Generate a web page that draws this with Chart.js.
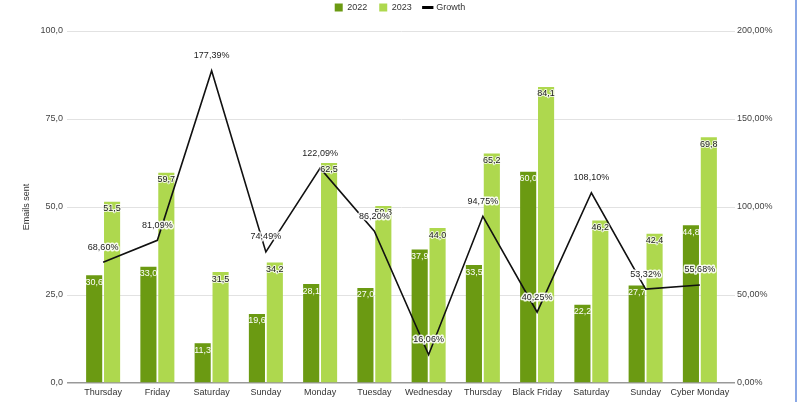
<!DOCTYPE html>
<html>
<head>
<meta charset="utf-8">
<script src="https://cdn.jsdelivr.net/npm/chart.js@4"></script>
<style>
  html, body { margin: 0; padding: 0; background: #fff; }
  #wrap { position: relative; width: 800px; height: 402px; }
  #edge { position: absolute; left: 795px; top: 0; width: 2px; height: 402px; background: #8aa8e6; }
</style>
</head>
<body>
<div id="wrap">
  <canvas id="myChart" width="800" height="402"></canvas>
  <div id="edge"></div>
</div>
<script>
// Chart data
const days = ['Thursday', 'Friday', 'Saturday', 'Sunday', 'Monday', 'Tuesday', 'Wednesday',
              'Thursday', 'Black Friday', 'Saturday', 'Sunday', 'Cyber Monday'];
const sent2022 = [30.6, 33.0, 11.3, 19.6, 28.1, 27.0, 37.9, 33.5, 60.0, 22.2, 27.7, 44.8];
const sent2023 = [51.5, 59.7, 31.5, 34.2, 62.5, 50.3, 44.0, 65.2, 84.1, 46.2, 42.4, 69.8];
const growth = [68.60, 81.09, 177.39, 74.49, 122.09, 86.20, 16.06, 94.75, 40.25, 108.10, 53.32, 55.68];

const dark = '#6b9a12';
const light = '#aed84e';
const FONT = 'Arial, "Liberation Sans", sans-serif';

const comma = (v, d) => v.toFixed(d).replace('.', ',');

// draws the value labels on bars and line
const valueLabels = {
    id: 'valueLabels',
    afterDatasetsDraw(chart) {
        const ctx = chart.ctx;
        ctx.save();
        ctx.font = '9px ' + FONT;
        ctx.textAlign = 'center';
        ctx.textBaseline = 'middle';
        ctx.lineJoin = 'round';

        // bars
        [0, 1].forEach(i => {
            const meta = chart.getDatasetMeta(i);
            meta.data.forEach((bar, j) => {
                const txt = comma(chart.data.datasets[i].data[j], 1);
                const y = bar.y + 7;
                if (i === 0) {
                    ctx.fillStyle = '#ffffff';
                    ctx.fillText(txt, bar.x, y);
                } else {
                    ctx.strokeStyle = 'rgba(255,255,255,0.8)';
                    ctx.lineWidth = 2;
                    ctx.strokeText(txt, bar.x, y);
                    ctx.fillStyle = '#1a1a1a';
                    ctx.fillText(txt, bar.x, y);
                }
            });
        });

        // growth line
        const meta = chart.getDatasetMeta(2);
        meta.data.forEach((pt, j) => {
            const txt = comma(growth[j], 2) + '%';
            const y = pt.y - 15;
            ctx.strokeStyle = 'rgba(255,255,255,0.9)';
            ctx.lineWidth = 3;
            ctx.strokeText(txt, pt.x, y);
            ctx.fillStyle = '#222';
            ctx.fillText(txt, pt.x, y);
        });
        ctx.restore();
    }
};

// push the chart area down below the legend
const legendGap = {
    id: 'legendGap',
    beforeInit(chart) {
        const fit = chart.legend.fit;
        chart.legend.fit = function () {
            fit.bind(chart.legend)();
            this.height = 40;
        };
    }
};

const ctx = document.getElementById('myChart').getContext('2d');
new Chart(ctx, {
    type: 'bar',
    data: {
        labels: days,
        datasets: [
            {
                label: '2022',
                data: sent2022,
                backgroundColor: dark,
                yAxisID: 'y',
                order: 1,
                categoryPercentage: 0.66,
                barPercentage: 0.9,
                pointStyle: 'rect'
            },
            {
                label: '2023',
                data: sent2023,
                backgroundColor: light,
                yAxisID: 'y',
                order: 1,
                categoryPercentage: 0.66,
                barPercentage: 0.9,
                pointStyle: 'rect'
            },
            {
                type: 'line',
                label: 'Growth',
                data: growth,
                borderColor: '#111',
                backgroundColor: '#111',
                borderWidth: 1.6,
                pointRadius: 0,
                tension: 0,
                yAxisID: 'y1',
                order: 0,
                pointStyle: 'line'
            }
        ]
    },
    options: {
        responsive: false,
        animation: false,
        layout: { padding: { top: -9, left: 0, right: 0, bottom: 0 } },
        plugins: {
            tooltip: { enabled: false },
            legend: {
                position: 'top',
                labels: {
                    usePointStyle: true,
                    boxWidth: 8,
                    boxHeight: 8,
                    padding: 12,
                    color: '#333',
                    font: { size: 9, family: FONT },
                    sort: (a, b) => a.datasetIndex - b.datasetIndex,
                    generateLabels(chart) {
                        const items = Chart.defaults.plugins.legend.labels.generateLabels(chart);
                        items.forEach(it => {
                            if (it.text === 'Growth') {
                                it.lineWidth = 3;
                                it.strokeStyle = '#000';
                            } else {
                                it.lineWidth = 0;
                            }
                        });
                        return items;
                    }
                }
            }
        },
        scales: {
            x: {
                grid: { display: false, drawTicks: false },
                border: { display: false },
                ticks: { color: '#333', font: { size: 9, family: FONT }, padding: 4, maxRotation: 0, autoSkip: false },
                afterFit(scale) { scale.height = 19; }
            },
            y: {
                position: 'left',
                min: 0,
                max: 100,
                ticks: {
                    stepSize: 25,
                    color: '#444',
                    padding: 4,
                    font: { size: 9, family: FONT },
                    callback: v => comma(v, 1)
                },
                grid: {
                    color: c => c.tick && c.tick.value === 0 ? '#999' : '#e2e2e2',
                    tickColor: c => c.tick && c.tick.value === 0 ? '#999' : '#e2e2e2',
                    lineWidth: c => c.tick && c.tick.value === 0 ? 1.5 : 1,
                    tickLength: 9
                },
                border: { display: false },
                title: {
                    display: true,
                    text: 'Emails sent',
                    color: '#333',
                    font: { size: 9, family: FONT },
                    padding: { top: 21, bottom: 0 }
                },
                afterFit(scale) { scale.width = 76; }
            },
            y1: {
                position: 'right',
                min: 0,
                max: 200,
                ticks: {
                    stepSize: 50,
                    color: '#444',
                    padding: 2,
                    font: { size: 9, family: FONT },
                    callback: v => comma(v, 2) + '%'
                },
                grid: {
                    drawOnChartArea: false,
                    tickColor: c => c.tick && c.tick.value === 0 ? '#999' : '#e2e2e2',
                    lineWidth: c => c.tick && c.tick.value === 0 ? 1.5 : 1,
                    tickLength: 8
                },
                border: { display: false },
                afterFit(scale) { scale.width = 73; }
            }
        }
    },
    plugins: [valueLabels, legendGap]
});
</script>
</body>
</html>
